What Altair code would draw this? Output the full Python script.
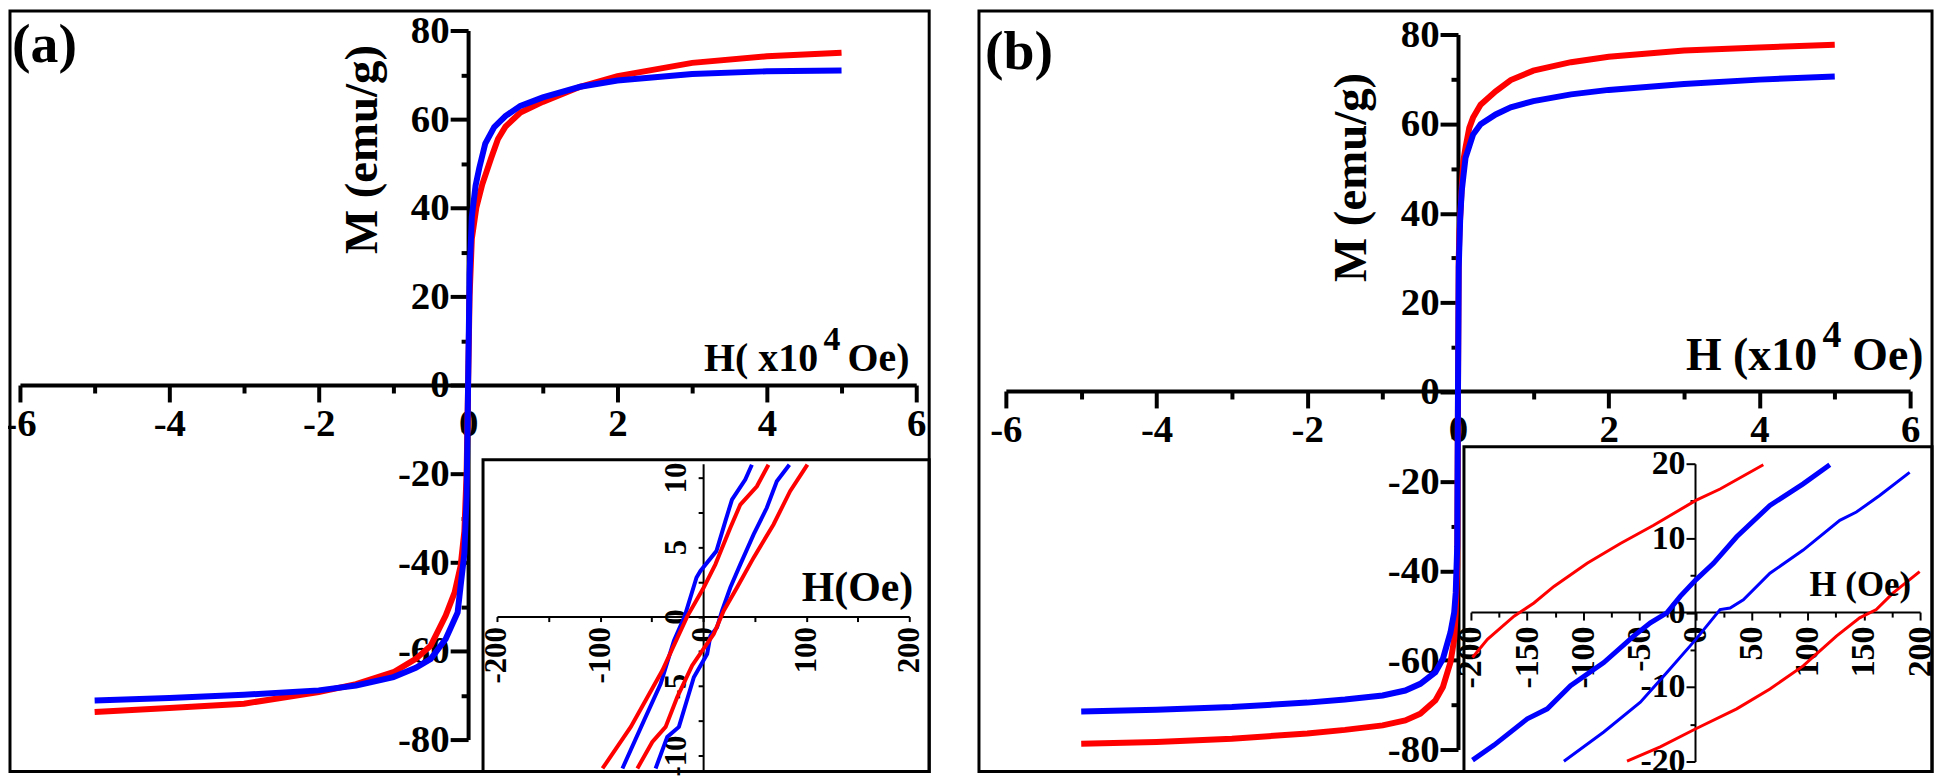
import altair as alt
import pandas as pd

RED = "#ff0000"
BLUE = "#0000ff"
FONT = "Liberation Serif"

# ---------------- Panel (a): main loop, H in 10^4 Oe, M in emu/g
a_red_H = [-5, -4, -3, -2, -1.5, -1, -0.7, -0.5, -0.3, -0.18, -0.1, -0.05, -0.02, 0, 0.02, 0.05, 0.11, 0.19, 0.31, 0.4, 0.5, 0.7, 1, 1.5, 2, 3, 4, 5]
a_red_M = [-73.8, -72.9, -71.9, -69.3, -67.5, -64.8, -61.8, -58.8, -52.0, -46.8, -40.8, -33.0, -20.0, 0, 20.0, 33.0, 40.0, 45.3, 51.3, 55.5, 58.3, 61.5, 63.9, 67.3, 69.7, 72.7, 74.2, 75.0]
a_blue_H = [-5, -4, -3, -2, -1.5, -1, -0.7, -0.5, -0.3, -0.14, -0.1, -0.05, -0.02, 0, 0.02, 0.05, 0.1, 0.15, 0.23, 0.35, 0.5, 0.7, 1, 1.5, 2, 3, 4, 5]
a_blue_M = [-71.2, -70.6, -69.9, -68.9, -67.8, -65.9, -63.8, -61.8, -57.3, -51.3, -45.3, -38.0, -25.0, 0, 25.0, 38.0, 45.0, 49.0, 54.5, 58.2, 60.7, 63.0, 64.9, 67.3, 68.7, 70.2, 70.8, 71.0]

# ---------------- Panel (a): inset, H in Oe
ai_blue1_H = [47.3, 40.9, 28.0, 21.6, 12.9, -2.6, -6.4, -18.0, -28.3, -41.2, -57.3, -78.3]
ai_blue1_M = [10.93, 9.86, 8.42, 6.87, 4.72, 3.28, 2.81, 0, -1.73, -4.84, -7.47, -10.93]
ai_red1_H = [63.4, 52.2, 36.1, 26.4, 11.9, 0.6, -15.5, -39.6, -70.2, -97.6]
ai_red1_M = [10.93, 9.38, 8.06, 6.39, 3.76, 2.09, 0, -3.88, -7.94, -10.93]
ai_blue2_H = [83.7, 71.5, 61.8, 49.0, 36.1, 26.4, 18.4, 13.5, 7.1, 3.9, -9.0, -23.5, -34.8, -46.1]
ai_blue2_M = [10.93, 9.74, 7.83, 5.91, 3.76, 2.09, 0.42, -0.78, -1.38, -2.69, -4.36, -7.94, -8.66, -10.93]
ai_red2_H = [101.2, 84.4, 68.3, 49.0, 32.9, 20.0, 10.3, -10.6, -25.1, -36.4, -49.3, -63.8]
ai_red2_M = [10.93, 9.02, 6.63, 4.24, 2.09, 0.42, -1.25, -3.52, -5.79, -7.94, -9.02, -10.93]

# ---------------- Panel (b): main loop, H in 10^4 Oe
b_red_H = [-5, -4, -3, -2, -1.5, -1, -0.7, -0.5, -0.3, -0.2, -0.1, -0.05, -0.03, -0.01, 0, 0.01, 0.02, 0.05, 0.07, 0.1, 0.15, 0.2, 0.3, 0.5, 0.7, 1, 1.5, 2, 3, 4, 5]
b_red_M = [-78.7, -78.3, -77.6, -76.4, -75.6, -74.6, -73.5, -72.0, -69.0, -66.0, -60.5, -55.3, -49.3, -38.9, 0, 30.0, 36.0, 45.8, 51.7, 54.7, 59.1, 61.4, 64.3, 67.3, 69.8, 71.9, 73.8, 75.0, 76.4, 77.1, 77.7]
b_blue_H = [-5, -4, -3, -2, -1.5, -1, -0.7, -0.5, -0.3, -0.2, -0.1, -0.05, -0.03, -0.01, 0, 0.01, 0.03, 0.05, 0.07, 0.1, 0.2, 0.3, 0.5, 0.7, 1, 1.5, 2, 3, 4, 5]
b_blue_M = [-71.5, -71.1, -70.5, -69.5, -68.8, -67.9, -66.8, -65.3, -62.7, -59.7, -53.8, -49.3, -44.9, -34.5, 0, 27.9, 39.1, 45.0, 48.0, 52.4, 57.6, 59.9, 62.1, 63.7, 65.1, 66.6, 67.6, 68.9, 69.9, 70.6]

# ---------------- Panel (b): inset, H in Oe
bi_red1_H = [-198.6, -185.3, -161.6, -143.9, -126.1, -96.5, -66.9, -37.3, 0.3, 21.9, 60.4]
bi_red1_M = [-6.04, -3.6, -0.49, 1.29, 3.51, 6.62, 9.29, 11.73, 15.07, 16.6, 19.87]
bi_red2_H = [-61.0, -31.4, 0.3, 36.7, 66.3, 95.9, 125.5, 146.2, 161.0, 175.8, 199.6]
bi_red2_M = [-19.96, -18.04, -15.6, -12.93, -10.27, -7.16, -3.16, -0.71, 0.4, 2.62, 5.51]
bi_blue1_H = [-198.6, -179.4, -149.8, -132.0, -111.3, -81.7, -55.1, -40.2, -25.5, -13.6, 0.3, 16.0, 36.7, 66.3, 95.9, 119.6]
bi_blue1_M = [-19.82, -17.8, -14.27, -12.93, -9.82, -6.71, -3.16, -1.38, -0.04, 2.18, 4.4, 6.62, 10.18, 14.4, 17.29, 19.87]
bi_blue2_H = [-117.2, -81.7, -49.1, -25.5, 0.3, 21.9, 30.8, 42.6, 66.3, 95.9, 128.5, 143.3, 164.0, 190.7]
bi_blue2_M = [-19.96, -16.04, -12.04, -8.04, -3.6, 0.4, 0.62, 1.73, 5.29, 8.4, 12.4, 13.51, 15.73, 18.84]


def table(parts):
    rows = []
    for series, branch, hs, ms in parts:
        for i, (h, m) in enumerate(zip(hs, ms)):
            rows.append({"H": h, "M": m, "series": series, "branch": branch, "i": i})
    return pd.DataFrame(rows)


color_scale = alt.Scale(domain=["red", "blue"], range=[RED, BLUE])
one = pd.DataFrame({"k": [0]})


def cond(test, a, b):
    return {"condition": {"test": test, "value": a}, "value": b}


def main_x_axis(offset):
    return alt.Axis(orient="bottom", offset=offset, values=list(range(-6, 7)),
                    labelExpr="datum.value % 2 == 0 ? '' + datum.value : ''",
                    tickSize=cond("datum.value % 2 == 0", 17, 8), tickWidth=4,
                    domainWidth=4, labelFontSize=39, labelPadding=3, title=None)


def main_y_axis(offset, tx, ty):
    return alt.Axis(orient="left", offset=offset, values=list(range(-80, 81, 10)),
                    labelExpr="datum.value % 20 == 0 ? '' + datum.value : ''",
                    tickSize=cond("datum.value % 20 == 0", 18, 7), tickWidth=4,
                    domainWidth=4, labelFontSize=39, labelPadding=1,
                    title="M (emu/g)", titleFontSize=47, titleAngle=270,
                    titleX=tx, titleY=ty, titleAlign="center", titleBaseline="middle")


def lines(df, width, xs, ys, xaxis, yaxis):
    return alt.Chart(df).mark_line(strokeWidth=width, clip=True).encode(
        x=alt.X("H:Q", scale=xs, axis=xaxis),
        y=alt.Y("M:Q", scale=ys, axis=yaxis),
        color=alt.Color("series:N", scale=color_scale, legend=None),
        detail="branch:N",
        order="i:Q",
    )


def box(x, x2, y, y2, w=3):
    return alt.Chart(one).mark_rect(filled=False, stroke="black", strokeWidth=w).encode(
        x=alt.value(x), x2=alt.value(x2), y=alt.value(y), y2=alt.value(y2))


def label(text, x, y, size):
    return alt.Chart(one).mark_text(text=text, font=FONT, fontWeight="bold", fontSize=size,
                                    align="left", baseline="alphabetic", color="black").encode(
        x=alt.value(x), y=alt.value(y))


# ---- panel (a) main
xs_am = alt.Scale(domain=[-6, 6], range=[10, 910], nice=False, zero=False)
ys_am = alt.Scale(domain=[-80, 80], range=[733, 21], nice=False, zero=False)
main_a = lines(table([("red", "ar", a_red_H, a_red_M), ("blue", "ab", a_blue_H, a_blue_M)]),
               6, xs_am, ys_am, main_x_axis(-396), main_y_axis(-460, -106, 140))

# ---- panel (a) inset
xs_ai = alt.Scale(domain=[-200, 200], range=[489, 903], nice=False, zero=False)
ys_ai = alt.Scale(domain=[-11, 11], range=[763, 456], nice=False, zero=False)
ai_x_axis = alt.Axis(orient="bottom", offset=-163.5, values=list(range(-200, 201, 50)),
                     labelExpr="datum.value % 100 == 0 ? '' + datum.value : ''",
                     labelAngle=270, labelAlign="right", labelBaseline="middle",
                     tickSize=5, tickWidth=2, domainWidth=2, labelFontSize=31,
                     labelPadding=5, title=None)
ai_y_axis = alt.Axis(orient="left", offset=-696, values=[-10, -7.5, -5, -2.5, 0, 2.5, 5, 7.5, 10],
                     labelExpr="datum.value % 5 == 0 ? '' + datum.value : ''",
                     labelAngle=270, labelAlign="center", labelBaseline="bottom",
                     tickSize=5, tickWidth=2, domainWidth=2, labelFontSize=31,
                     labelPadding=6, title=None)
inset_a = lines(table([("blue", "b1", ai_blue1_H, ai_blue1_M), ("red", "r1", ai_red1_H, ai_red1_M),
                       ("blue", "b2", ai_blue2_H, ai_blue2_M), ("red", "r2", ai_red2_H, ai_red2_M)]),
                4, xs_ai, ys_ai, ai_x_axis, ai_y_axis)

# ---- panel (b) main
xs_bm = alt.Scale(domain=[-6, 6], range=[1000, 1908], nice=False, zero=False)
ys_bm = alt.Scale(domain=[-80, 80], range=[743, 25], nice=False, zero=False)
main_b = lines(table([("red", "br", b_red_H, b_red_M), ("blue", "bb", b_blue_H, b_blue_M)]),
               6, xs_bm, ys_bm, main_x_axis(-390), main_y_axis(-1454, -107, 168))

# ---- panel (b) inset (two layers with identical explicit scales)
bi_x_axis = alt.Axis(orient="bottom", offset=-168, values=list(range(-200, 201, 25)),
                     labelExpr="datum.value % 50 == 0 ? '' + datum.value : ''",
                     labelAngle=270, labelAlign="right", labelBaseline="middle",
                     tickSize=cond("datum.value % 50 == 0", 8, 5), tickWidth=2, domainWidth=2,
                     labelFontSize=34, labelPadding=6, title=None)
bi_y_axis = alt.Axis(orient="left", offset=-1692, values=list(range(-20, 21, 5)),
                     labelExpr="datum.value % 10 == 0 ? '' + datum.value : ''",
                     tickSize=cond("datum.value % 10 == 0", 9, 5), tickWidth=2, domainWidth=2,
                     labelFontSize=34, labelPadding=1, title=None)


def bi_xs():
    return alt.Scale(domain=[-200, 200], range=[1467, 1918], nice=False, zero=False)


def bi_ys():
    return alt.Scale(domain=[-20, 20], range=[755, 456], nice=False, zero=False)


inset_b_thin = lines(table([("red", "r1", bi_red1_H, bi_red1_M), ("red", "r2", bi_red2_H, bi_red2_M),
                            ("blue", "b2", bi_blue2_H, bi_blue2_M)]),
                     3, bi_xs(), bi_ys(), bi_x_axis, bi_y_axis)
inset_b_thick = lines(table([("blue", "b1", bi_blue1_H, bi_blue1_M)]),
                      5, bi_xs(), bi_ys(), None, None)

chart = alt.layer(
    box(0, 923, 1.5, 765),
    box(973, 1930, 1.5, 765),
    main_a,
    box(475, 923, 452, 765),
    inset_a,
    main_b,
    box(1460, 1930, 439, 765),
    inset_b_thin,
    inset_b_thick,
    label("(a)", 2, 53, 56),
    label("(b)", 979, 60, 56),
    label("H( x10", 697, 363, 40),
    label("4", 817, 342, 34),
    label("Oe)", 841, 363, 40),
    label("H (x10", 1683, 362, 46),
    label("4", 1820, 339, 38),
    label("Oe)", 1850, 362, 46),
    label("H(Oe)", 795, 594, 42),
    label("H (Oe)", 1807, 589, 35),
).resolve_scale(x="independent", y="independent").properties(
    width=1936, height=773,
    padding={"left": 2, "top": 0, "right": 0, "bottom": 0},
    autosize=alt.AutoSizeParams(type="none"),
    background="white",
).configure_view(stroke=None).configure_axis(
    labelFont=FONT, labelFontWeight="bold", titleFont=FONT, titleFontWeight="bold",
    domainColor="black", tickColor="black", labelColor="black", titleColor="black",
    grid=False, labelFlush=False, labelOverlap=False,
)

chart.save("out.html", embed_options={"renderer": "svg", "actions": False})
